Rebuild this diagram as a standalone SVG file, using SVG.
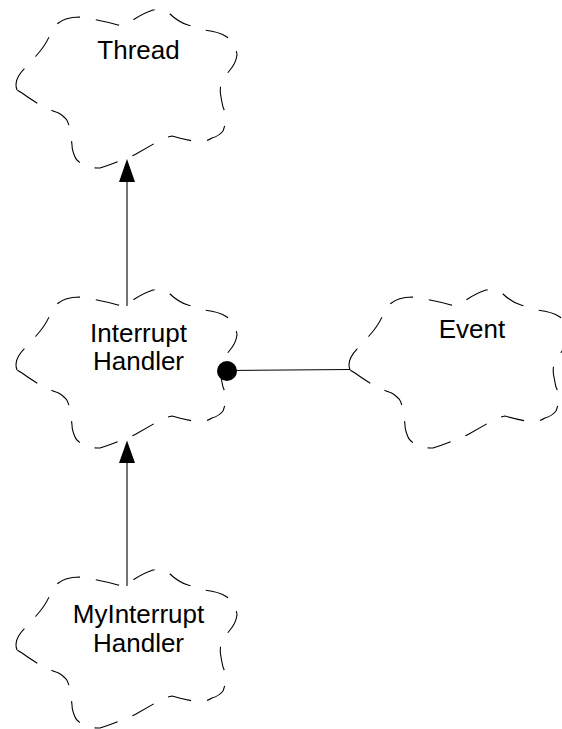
<svg xmlns="http://www.w3.org/2000/svg" xmlns:xlink="http://www.w3.org/1999/xlink" width="562" height="729" viewBox="0 0 562 729">
<style>
.cloud{fill:none;stroke:#000;stroke-width:1.1;stroke-dasharray:24 16;}
.lbl{font-family:"Liberation Sans",Arial,sans-serif;font-size:26px;fill:#000;text-anchor:middle;}
.conn{stroke:#000;stroke-width:1.1;fill:none;}
</style>
<defs>
<path id="cloudShape" d="M17,90 Q13,80 25,68 Q33,60 36,56 Q45,46 49,37 Q52,28 57,24 Q65,17 79,17 Q100,20 118,25 L125,26 Q140,14 153,10 Q162,8 169,13 Q178,22 188,25 Q198,28 203,30 Q218,31 227,37 Q236,44 237,55 Q236,63 230,70 L222,80 Q219,90 221,97 Q222,103 223,107 Q228,118 223,131 Q219,136 212,138 Q205,142 200,142 Q185,140 172,136 L164,138 Q150,146 136,154 Q128,158 122,160 Q110,165 100,168 Q88,168 83,165 Q76,160 75,157 Q72,150 72,145 Q71,136 70,130 Q68,120 65,118 Q60,113 56,112 Q48,109 42,106 Q30,99 22,93 Z"/>
</defs>
<rect width="562" height="729" fill="#fff"/>
<g id="thread">
<use xlink:href="#cloudShape" href="#cloudShape" class="cloud"/>
<text class="lbl" x="138.5" y="59">Thread</text>
</g>
<g id="interrupt-handler">
<use xlink:href="#cloudShape" href="#cloudShape" class="cloud" transform="translate(0,280)"/>
<text class="lbl" x="138.5" y="341.5">Interrupt</text>
<text class="lbl" x="138.5" y="370">Handler</text>
</g>
<g id="event">
<use xlink:href="#cloudShape" href="#cloudShape" class="cloud" transform="translate(333,280)"/>
<text class="lbl" x="472" y="338">Event</text>
</g>
<g id="my-interrupt-handler">
<use xlink:href="#cloudShape" href="#cloudShape" class="cloud" transform="translate(0,560)"/>
<text class="lbl" x="138.5" y="623">MyInterrupt</text>
<text class="lbl" x="138.5" y="652">Handler</text>
</g>
<g id="connectors">
<line class="conn" x1="127" y1="306" x2="127" y2="180"/>
<polygon points="127,159 135,182 119,182" fill="#000"/>
<line class="conn" x1="127" y1="586" x2="127" y2="461"/>
<polygon points="127,440.5 135,463 119,463" fill="#000"/>
<line class="conn" x1="227" y1="370.5" x2="350" y2="369.5"/>
<circle cx="227" cy="371" r="10" fill="#000"/>
</g>
</svg>
